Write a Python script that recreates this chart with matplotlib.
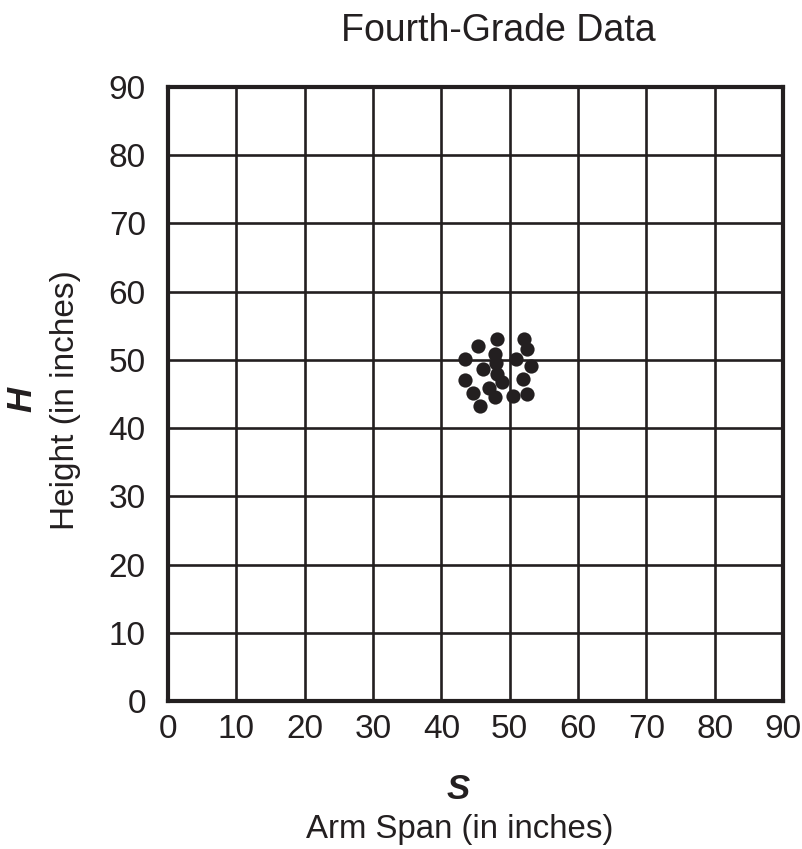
import matplotlib
matplotlib.use("Agg")
import matplotlib.pyplot as plt

plt.rcParams['font.family'] = ['Liberation Sans', 'DejaVu Sans']

# arm span (S) and height (H)
arm_span = [45.3, 48.1, 52.1, 52.6, 43.5, 47.8, 48.0, 50.9, 53.1, 46.1,
            48.2, 48.9, 43.5, 52.0, 47.0, 44.7, 47.8, 50.5, 52.6, 45.7]
height = [52.1, 53.0, 53.1, 51.6, 50.1, 50.8, 49.5, 50.1, 49.1, 48.7,
          48.0, 46.8, 47.1, 47.2, 45.9, 45.2, 44.5, 44.7, 45.0, 43.3]
ticks = list(range(0, 91, 10))

fig = plt.figure(figsize=(8.03, 8.49), dpi=100)
ax = fig.add_axes([0.2092, 0.1743, 0.7659, 0.7232])

ax.scatter(arm_span, height, s=105, color='#231f20', zorder=3, linewidths=0)

ax.set_xlim(0, 90)
ax.set_ylim(0, 90)
ax.set_xticks(ticks)
ax.set_yticks(ticks)
ax.tick_params(length=0, labelsize=24, colors='#231f20')
ax.tick_params(axis='y', pad=16)
ax.tick_params(axis='x', pad=9)
ax.grid(True, color='#231f20', linewidth=1.9)
ax.set_axisbelow(True)
for sp in ax.spines.values():
    sp.set_linewidth(3)
    sp.set_color('#231f20')

fig.text(0.620, 0.963, "Fourth-Grade Data", ha='center', va='center', fontsize=27, color='#231f20')
fig.text(0.570, 0.0695, "S", ha='center', va='center', fontsize=25, style='italic', fontweight='bold', color='#231f20')
fig.text(0.573, 0.0224, "Arm Span (in inches)", ha='center', va='center', fontsize=23.8, color='#231f20')
fig.text(0.0274, 0.529, "H", ha='center', va='center', fontsize=25, style='italic', fontweight='bold',
         rotation=90, color='#231f20')
fig.text(0.081, 0.529, "Height (in inches)", ha='center', va='center', fontsize=24, rotation=90, color='#231f20')

fig.savefig("out.png", dpi=100)
